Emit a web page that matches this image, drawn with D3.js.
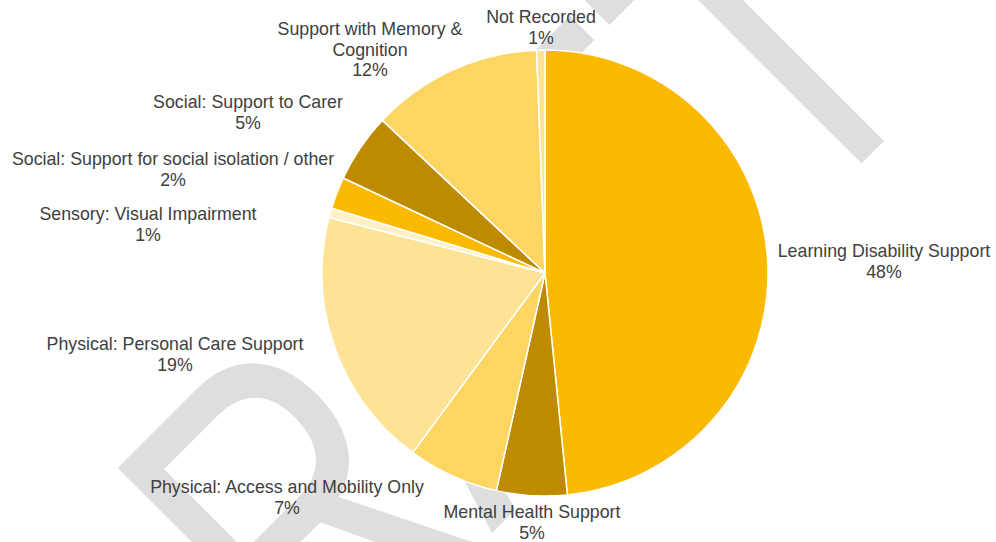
<!DOCTYPE html>
<meta charset="utf-8">
<style>
body { margin: 0; background: #fff; }
.label { font-family: "Liberation Sans", Arial, sans-serif; font-size: 17.8px; fill: #404040; text-anchor: middle; }
.watermark { font-family: "Liberation Sans", Arial, sans-serif; fill: #dedede; }
</style>
<body>
<script src="https://cdn.jsdelivr.net/npm/d3@7"></script>
<script>

// categories and their shares (percent), clockwise from 12 o'clock
var categories = ["Learning Disability Support", "Mental Health Support", "Physical: Access and Mobility Only",
                  "Physical: Personal Care Support", "Sensory: Visual Impairment",
                  "Social: Support for social isolation / other", "Social: Support to Carer",
                  "Support with Memory & Cognition", "Not Recorded"];
var values = [48.4, 5.1, 6.6, 18.9, 0.7, 2.3, 5.0, 12.4, 0.6];

// label lines as drawn (line breaks of the original)
var labelLines = [["Learning Disability Support"], ["Mental Health Support"], ["Physical: Access and Mobility Only"],
                  ["Physical: Personal Care Support"], ["Sensory: Visual Impairment"],
                  ["Social: Support for social isolation / other"], ["Social: Support to Carer"],
                  ["Support with Memory &", "Cognition"], ["Not Recorded"]];

var colors = ["#FBBA00", "#BD8A00", "#FDD562", "#FEE397", "#FFF0C8", "#FBBA00", "#BD8A00", "#FDD562", "#FEE397"];

// label centres (x, baseline of first line) - layout only
var labelPos = [[884, 257], [532, 518], [287, 493], [175, 350], [148, 220], [173, 165], [248, 108], [370, 35], [541, 23]];

var width = 996, height = 542;
var cx = 545, cy = 273, radius = 223;

var svg = d3.select("body").append("svg")
    .attr("width", width)
    .attr("height", height);

// DRAFT watermark behind everything
svg.append("text")
    .attr("class", "watermark")
    .attr("transform", "translate(512.5,512.5) rotate(-45) scale(0.973,1.29)")
    .attr("x", -536)
    .attr("y", 0)
    .style("font-size", "350px")
    .text("DRAFT");

var pie = d3.pie().sort(null).value(function(d) { return d; });
var arc = d3.arc().innerRadius(0).outerRadius(radius);

var g = svg.append("g").attr("transform", "translate(" + cx + "," + cy + ")");

g.selectAll("path")
    .data(pie(values))
    .enter().append("path")
    .attr("d", arc)
    .attr("fill", function(d, i) { return colors[i]; })
    .attr("stroke", "#fff")
    .attr("stroke-width", 1.5)
    .attr("stroke-linejoin", "round");

var total = d3.sum(values);

var labels = svg.selectAll(".label")
    .data(categories)
    .enter().append("text")
    .attr("class", "label")
    .attr("x", function(d, i) { return labelPos[i][0]; })
    .attr("y", function(d, i) { return labelPos[i][1]; });

labels.each(function(d, i) {
    var t = d3.select(this);
    var lines = labelLines[i].concat([Math.round(values[i] / total * 100) + "%"]);
    lines.forEach(function(line, j) {
        t.append("tspan")
            .attr("x", labelPos[i][0])
            .attr("dy", j === 0 ? 0 : 20.5)
            .text(line);
    });
});
</script>
</body>
